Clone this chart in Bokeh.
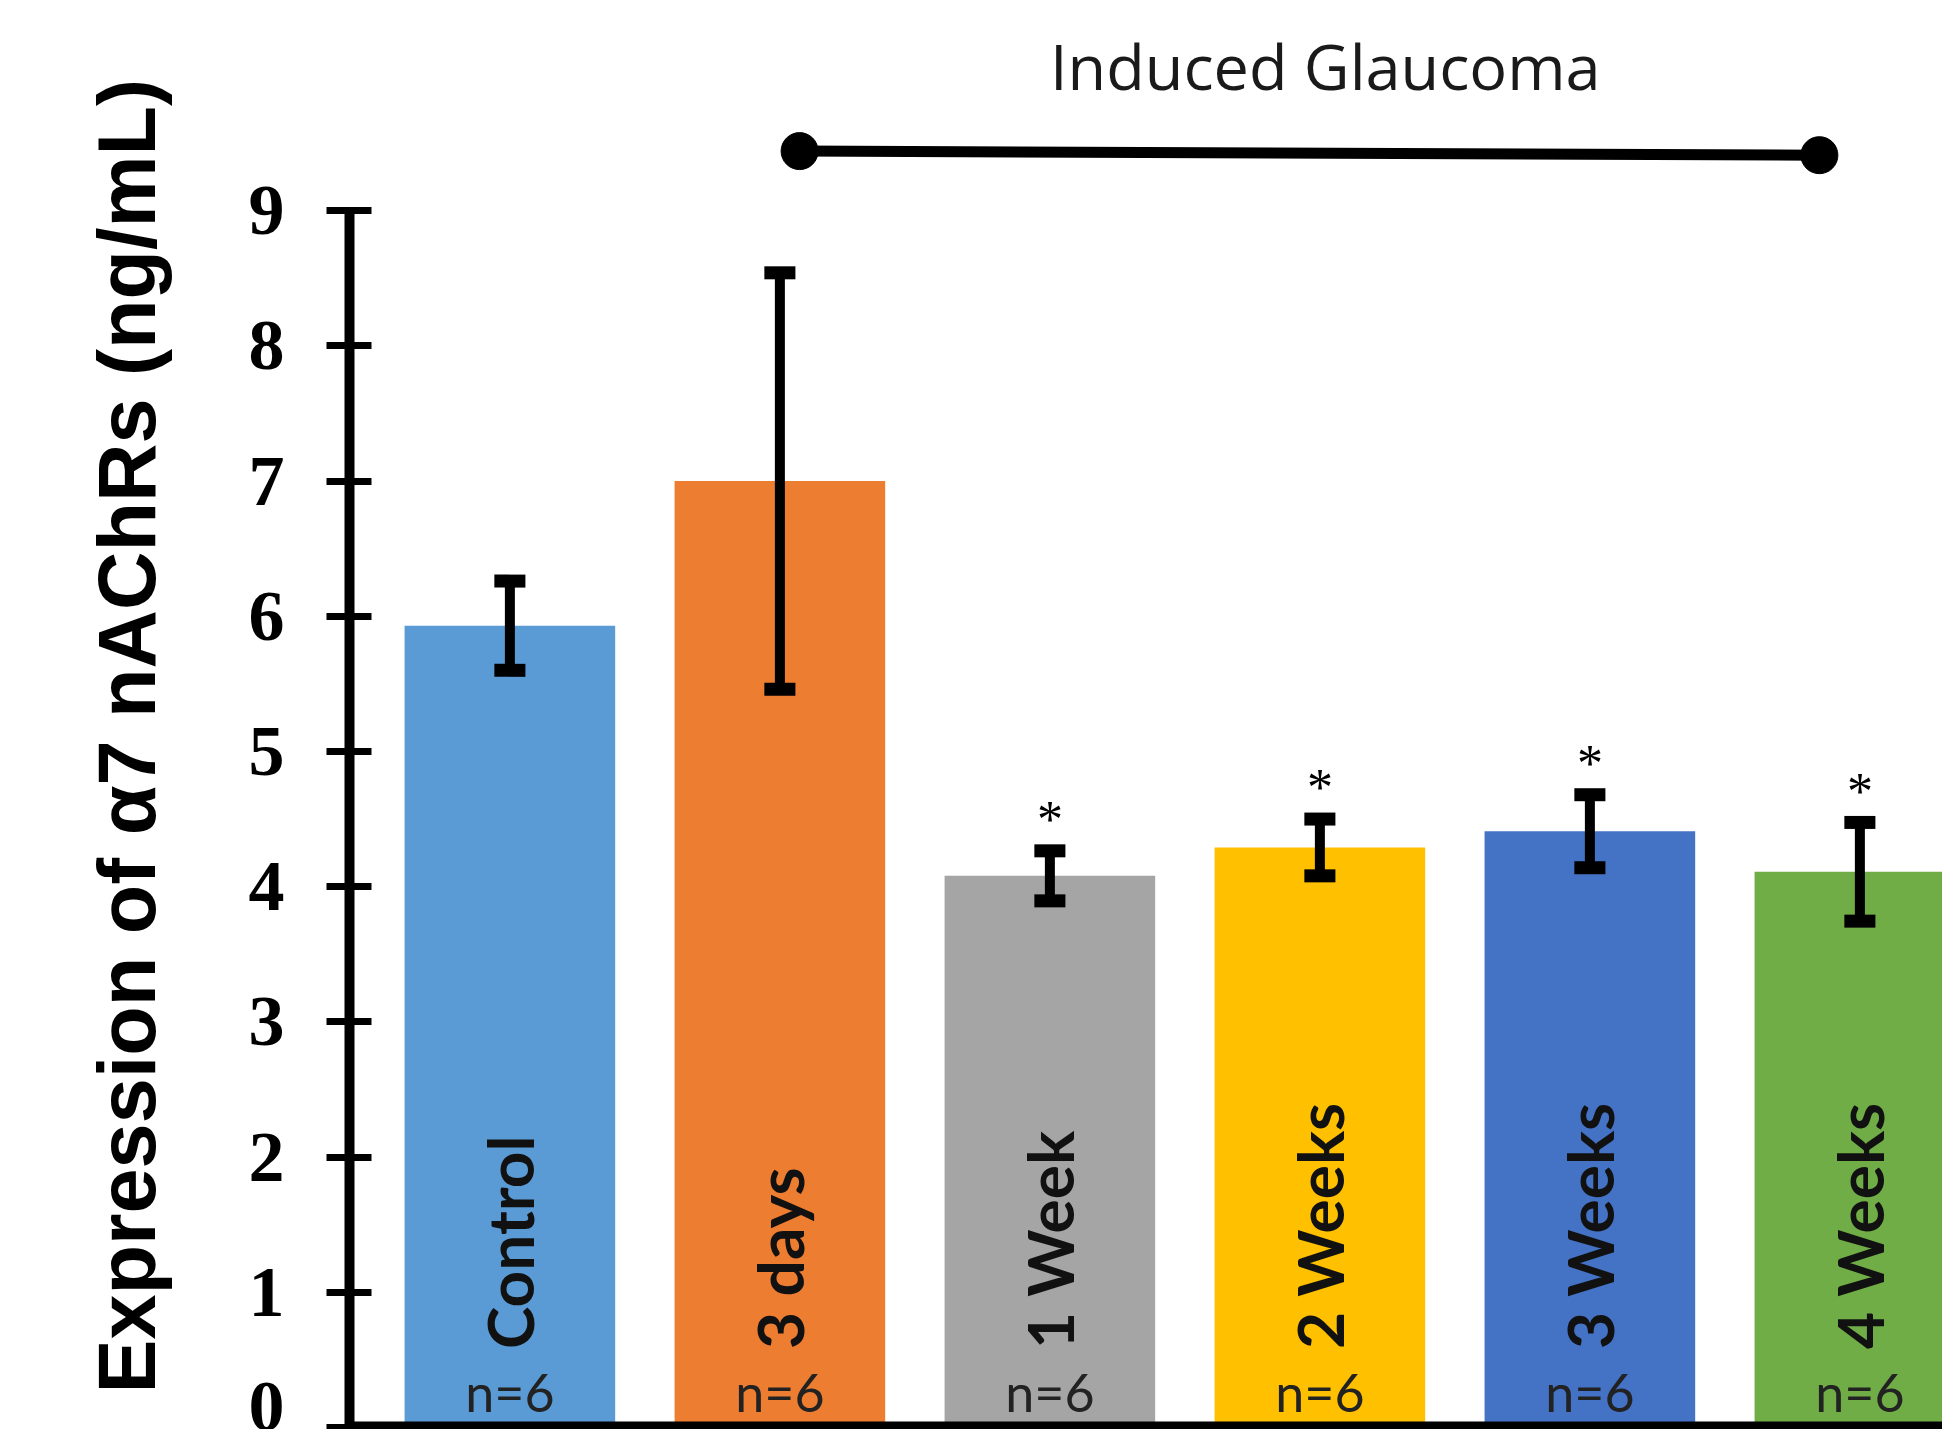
import math
from bokeh.plotting import figure
from bokeh.models import Range1d, FixedTicker, ColumnDataSource, Span, Title
from bokeh.core.properties import value
from bokeh.embed import file_html
from bokeh.resources import INLINE

# ---- data ----
categories = ["Control", "3 days", "1 Week", "2 Weeks", "3 Weeks", "4 Weeks"]
means = [5.93, 7.00, 4.08, 4.29, 4.41, 4.11]
errors = [0.33, 1.54, 0.185, 0.21, 0.27, 0.365]
n_labels = ["n=6", "n=6", "n=6", "n=6", "n=6", "n=6"]
significant = [False, False, True, True, True, True]
bar_colors = ["#5B9BD5", "#ED7D31", "#A5A5A5", "#FFC000", "#4472C4", "#70AD47"]
y_ticks = [0, 1, 2, 3, 4, 5, 6, 7, 8, 9]
y_title = "Expression of α7 nAChRs (ng/mL)"
group_label = "Induced Glaucoma"

xs = list(range(len(categories)))
lo = [m - e for m, e in zip(means, errors)]
hi = [m + e for m, e in zip(means, errors)]
cap = 0.0575

src = ColumnDataSource(dict(x=xs, top=means, lo=lo, hi=hi, color=bar_colors,
                            cat=categories, n=n_labels,
                            cl=[x - cap for x in xs], cr=[x + cap for x in xs]))

p = figure(width=1942, height=1429,
           x_range=Range1d(-0.594, 5.306), y_range=Range1d(-0.0148, 10.554),
           output_backend="svg", toolbar_location=None, x_axis_location=None,
           min_border_left=349, min_border_right=0, min_border_top=0, min_border_bottom=0)
p.outline_line_color = None
p.xgrid.visible = False
p.ygrid.visible = False
p.background_fill_color = "white"

ax = p.yaxis[0]
ax.ticker = FixedTicker(ticks=y_ticks)
ax.bounds = (0, 9)
ax.axis_line_width = 10
ax.axis_line_color = "black"
ax.major_tick_line_width = 7
ax.major_tick_line_color = "black"
ax.major_tick_in = 22
ax.major_tick_out = 23
ax.minor_tick_line_color = None
ax.major_label_text_font = "Liberation Serif"
ax.major_label_text_font_style = "bold"
ax.major_label_text_font_size = "72px"
ax.major_label_text_color = "black"
ax.major_label_standoff = 42

p.add_layout(Title(text=y_title, align="left", offset=36, standoff=148,
                   text_font="Liberation Sans", text_font_style="bold",
                   text_font_size="81px", text_color="black"), "left")

p.vbar(x="x", top="top", bottom=0, width=0.78, fill_color="color", line_color=None, source=src)

# error bars
p.segment(x0="x", y0="lo", x1="x", y1="hi", line_width=10, line_color="black", source=src)
p.segment(x0="cl", y0="hi", x1="cr", y1="hi", line_width=13, line_color="black", source=src)
p.segment(x0="cl", y0="lo", x1="cr", y1="lo", line_width=13, line_color="black", source=src)

# bottom axis line
p.add_layout(Span(location=0, dimension="width", line_color="black", line_width=12))

# labels inside bars
p.text(x="x", y=0.58, text="cat", angle=math.pi / 2, text_align="left", text_baseline="middle",
       text_font=value("Lato"), text_font_style="bold", text_font_size="64px",
       text_color="#111111", source=src)
p.text(x="x", y=0.265, text="n", text_align="center", text_baseline="middle",
       text_font=value("Lato"), text_font_size="52px", text_color="#222222", source=src)

# significance asterisks
sx = [x for x, s in zip(xs, significant) if s]
sy = [h + 0.23 for h, s in zip(hi, significant) if s]
p.text(x=sx, y=sy, text=["*"] * len(sx), text_align="center", text_baseline="middle",
       text_font=value("Liberation Serif"), text_font_size="52px", text_color="black")

# Induced glaucoma bracket
p.segment(x0=[1.073], y0=[9.44], x1=[4.85], y1=[9.41], line_width=11, line_color="black")
p.scatter(x=[1.073, 4.85], y=[9.44, 9.41], size=37, color="black")
p.text(x=[3.02], y=[10.07], text=[group_label], text_align="center", text_baseline="alphabetic",
       text_font=value("Open Sans"), text_font_size="63px", text_color="#1a1a1a")

open("out.html", "w").write(file_html(p, INLINE))
